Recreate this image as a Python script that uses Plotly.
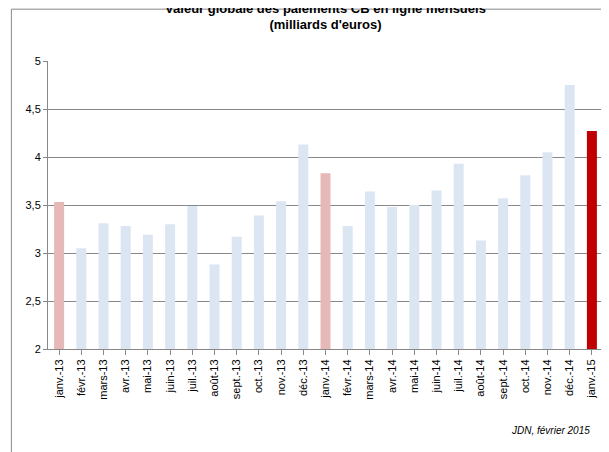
import plotly.graph_objects as go

months = ["janv.-13","févr.-13","mars-13","avr.-13","mai-13","juin-13","juil.-13","août-13","sept.-13","oct.-13","nov.-13","déc.-13",
          "janv.-14","févr.-14","mars-14","avr.-14","mai-14","juin-14","juil.-14","août-14","sept.-14","oct.-14","nov.-14","déc.-14","janv.-15"]
values = [3.53,3.05,3.31,3.28,3.19,3.30,3.49,2.88,3.17,3.39,3.54,4.13,
          3.83,3.28,3.64,3.48,3.50,3.65,3.93,3.13,3.57,3.81,4.05,4.75,4.27]
colors = ["#e6b9b8" if m.startswith("janv.-1") and m != "janv.-15" else "#dce6f2" for m in months]
colors[-1] = "#c00000"

fig = go.Figure(go.Bar(x=months, y=values, marker=dict(color=colors, line=dict(width=0)), width=0.45, base=0))
fig.update_layout(
    width=609, height=452, margin=dict(l=40, r=14, t=53, b=111, autoexpand=False),
    plot_bgcolor="white", paper_bgcolor="white",
    font=dict(family="Liberation Sans, Arial", size=11, color="black"),
    title=dict(text="<b>Valeur globale des paiements CB en ligne mensuels<br>(milliards d'euros)</b>",
               x=0.5, xanchor="center", xref="paper", yref="container", y=0.99, yanchor="top", font=dict(size=13)),
    showlegend=False,
    shapes=[dict(type="rect", xref="paper", yref="paper", x0=-0.066, x1=1.023, y0=-0.38, y1=1.18,
                 line=dict(color="#888", width=1))],
    annotations=[dict(text="<i>JDN, février 2015</i>", xref="paper", yref="paper", x=0.98, y=-0.31,
                      showarrow=False, xanchor="right", font=dict(size=10))],
)
fig.update_yaxes(range=[2, 5], gridcolor="#888", showline=True, linecolor="#888", ticks="outside",
                 ticklen=4, tickcolor="#888", automargin=False,
                 tickvals=[2,2.5,3,3.5,4,4.5,5], ticktext=["2","2,5","3","3,5","4","4,5","5"])
fig.update_xaxes(tickangle=-90, showline=True, linecolor="#888", ticks="outside", tickcolor="#888", automargin=False)
fig.write_html("out.html")
